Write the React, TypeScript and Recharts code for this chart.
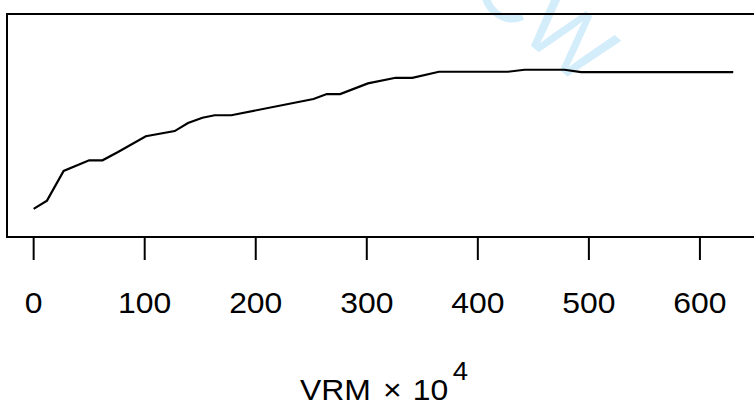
import { LineChart, Line, XAxis, YAxis, ReferenceArea } from 'recharts';

// VRM (x 10^4) and the curve's value
const vrm = [0, 12, 27, 50, 62, 76, 101, 127, 139, 152, 163, 178, 252, 264, 276, 301, 326, 341, 365, 427, 442, 478, 493, 630];
const score = [0.126, 0.163, 0.296, 0.344, 0.344, 0.381, 0.452, 0.475, 0.511, 0.535, 0.546, 0.546, 0.619, 0.641, 0.641, 0.689, 0.714, 0.714, 0.741, 0.741, 0.75, 0.75, 0.739, 0.739];
const xTicks = [0, 100, 200, 300, 400, 500, 600];

const X_DOMAIN = [-24, 655];
const data = vrm.map((v, i) => ({ vrm: v, score: score[i] }));

const FONT = '"Liberation Sans", Arial, Helvetica, sans-serif';
const STRETCH = 1.1; // the source text is a bit wider than it is tall

const Tick = ({ x, y, payload }: any) => (
    <text
        transform={`translate(${x} ${y + 51}) scale(${STRETCH} 1)`}
        textAnchor="middle"
        fontSize={29}
        fontFamily={FONT}
        fill="#000"
    >
        {payload.value}
    </text>
);

const AxisTitle = ({ viewBox }: any) => {
    const cx = viewBox.x + viewBox.width / 2;
    return (
        <text
            transform={`translate(${cx} ${viewBox.y + 163}) scale(${STRETCH} 1)`}
            textAnchor="middle"
            fontSize={29}
            fontFamily={FONT}
            fill="#000"
        >
            VRM
            <tspan dx={3}> × </tspan>
            <tspan dx={2}>10</tspan>
            <tspan dx={4} dy={-20} fontSize={25}>4</tspan>
        </text>
    );
};

export default function App() {
    return (
        <div style={{ position: 'relative', width: 754, height: 410, overflow: 'hidden', background: '#fff' }}>
            <style>{'body{margin:0}'}</style>

            {/* faint watermark behind the plot */}
            <svg width={754} height={410} style={{ position: 'absolute', left: 0, top: 0 }}>
                <text
                    x={467}
                    y={-8}
                    fontSize={90}
                    fontFamily={FONT}
                    fill="#d3edfb"
                    transform="rotate(40 467 -8)"
                >
                    CW
                </text>
            </svg>

            <div style={{ position: 'absolute', left: 0, top: 0 }}>
                <LineChart width={790} height={410} data={data} margin={{ top: 14, right: 29, bottom: 0, left: 7 }}>
                    <XAxis
                        dataKey="vrm"
                        type="number"
                        domain={X_DOMAIN}
                        ticks={xTicks}
                        allowDataOverflow
                        height={173}
                        tickSize={23}
                        axisLine={false}
                        tickLine={{ stroke: '#000', strokeWidth: 2 }}
                        tick={<Tick />}
                        label={<AxisTitle />}
                    />
                    <YAxis domain={[0, 1]} width={0} tick={false} tickLine={false} axisLine={false} />
                    {/* plot frame */}
                    <ReferenceArea
                        x1={X_DOMAIN[0]}
                        x2={X_DOMAIN[1]}
                        y1={0}
                        y2={1}
                        fill="none"
                        fillOpacity={0}
                        stroke="#000"
                        strokeWidth={2}
                        strokeOpacity={1}
                        ifOverflow="visible"
                    />
                    <Line
                        dataKey="score"
                        type="linear"
                        stroke="#000"
                        strokeWidth={2.2}
                        dot={false}
                        isAnimationActive={false}
                    />
                </LineChart>
            </div>
        </div>
    );
}
